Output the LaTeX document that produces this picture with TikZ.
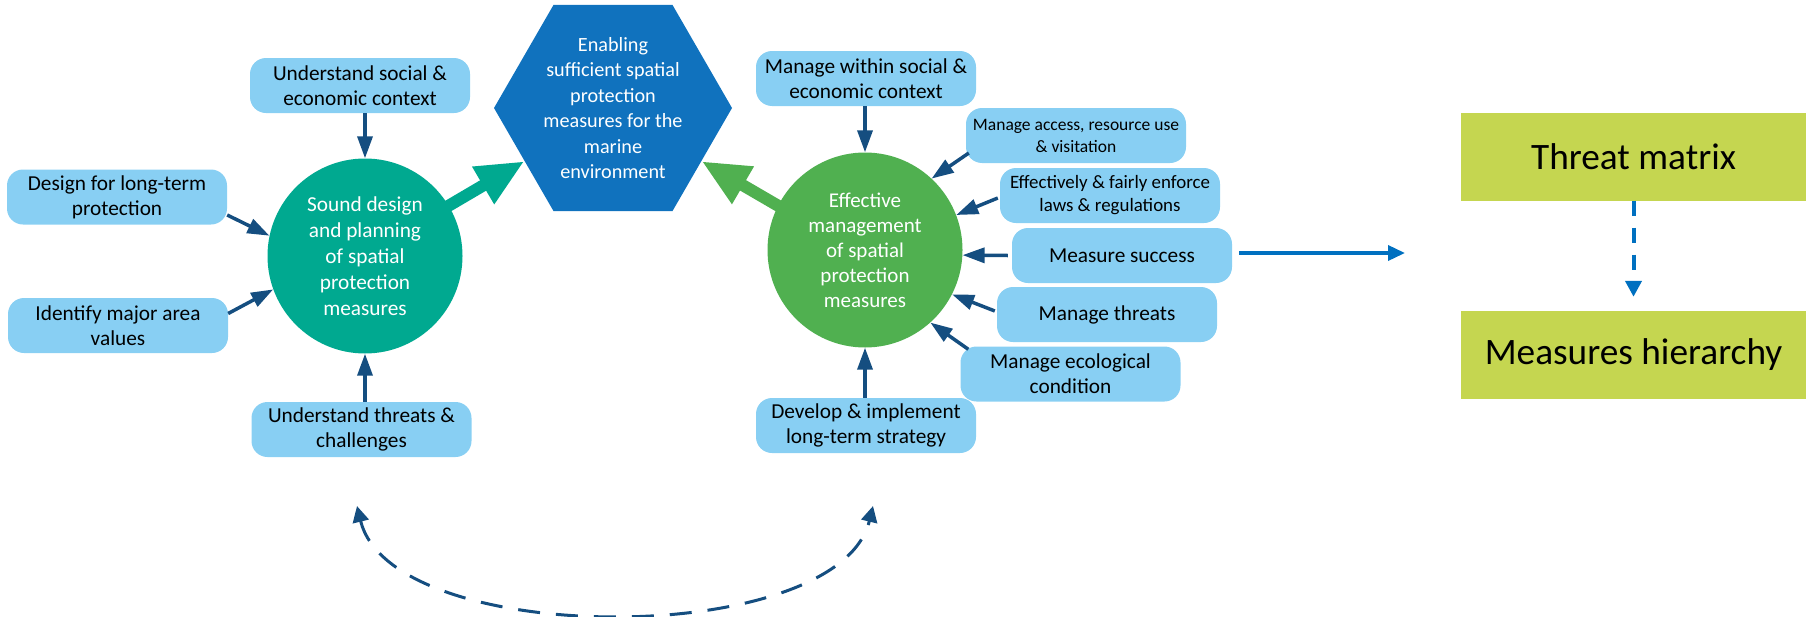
\documentclass[tikz,border=0pt]{standalone}
\usepackage{fontspec}
\setmainfont{Carlito}
\usetikzlibrary{arrows.meta,shapes.geometric,calc}

\definecolor{boxblue}{HTML}{88CFF3}
\definecolor{darkarrow}{HTML}{154E80}
\definecolor{tealc}{HTML}{00A990}
\definecolor{greenc}{HTML}{50B050}
\definecolor{hexblue}{HTML}{1072BE}
\definecolor{lineblue}{HTML}{0070C0}
\definecolor{limec}{HTML}{C5D650}

\begin{document}
\begin{tikzpicture}[x=1pt,y=-1pt,
  ibox/.style={rectangle, rounded corners=16pt, fill=boxblue, minimum width=220pt, minimum height=55pt, align=center, inner sep=2pt, text=black, font=\fontsize{21.3}{25}\selectfont},
  smallbox/.style={ibox, font=\fontsize{17.5}{22}\selectfont},
  bigcirc/.style={circle, minimum size=195pt, inner sep=0pt, align=center, text=white, font=\fontsize{21.3}{26}\selectfont},
  darr/.style={draw=darkarrow, line width=3.5pt, -{Triangle[length=22pt,width=15pt]}},
  fatarr/.style={line width=12pt, shorten <=-10pt, -{Triangle[length=48pt,width=40pt]}},
  blarr/.style={draw=lineblue, line width=3.5pt, -{Triangle[length=17pt,width=15pt]}},
  limebox/.style={rectangle, fill=limec, minimum width=345pt, minimum height=88pt, inner sep=0pt, text=black, font=\fontsize{37.3}{40}\selectfont},
]
\useasboundingbox (0,0) rectangle (1814,616);

% left cluster
\node[ibox] (usc) at (360,85.5) {Understand social \&\\economic context};
\node[ibox] (dlt) at (117,197) {Design for long-term\\protection};
\node[ibox] (ima) at (118,325.5) {Identify major area\\values};
\node[ibox] (utc) at (361.5,429.5) {Understand threats \&\\challenges};
\node[bigcirc, fill=tealc] (c1) at (365,256) {Sound design\\and planning\\of spatial\\protection\\measures};

% hexagon
\node[regular polygon, regular polygon sides=6, minimum size=238pt, inner sep=0pt, fill=hexblue] (hex) at (613,108) {};
\node[align=center, text=white, font=\fontsize{20.2}{25.5}\selectfont] (hext) at (hex.center) {Enabling\\sufficient spatial\\protection\\measures for the\\marine\\environment};

% right cluster
\node[bigcirc, fill=greenc, font=\fontsize{21}{25}\selectfont] (c2) at (865,250) {Effective\\management\\of spatial\\protection\\measures};
\node[ibox] (mws) at (866,78.5) {Manage within social \&\\economic context};
\node[smallbox] (mar) at (1076,135.5) {Manage access, resource use\\\& visitation};
\node[smallbox, font=\fontsize{18.9}{23}\selectfont] (eff) at (1110,195.5) {Effectively \& fairly enforce\\laws \& regulations};
\node[ibox] (ms) at (1122,255.5) {Measure success};
\node[ibox] (mt) at (1107,314.5) {Manage threats};
\node[ibox] (mec) at (1070.5,374) {Manage ecological\\condition};
\node[ibox] (dev) at (866,425.5) {Develop \& implement\\long-term strategy};

% far right
\node[limebox] (tm) at (1633.5,156.5) {Threat matrix};
\node[limebox] (mh) at (1633.5,355) {Measures hierarchy};

% arrows left
\draw[darr] (c1.north |- usc.south) -- (c1.north);
\draw[darr] ([yshift=-18pt]dlt.east) -- (c1.168);
\draw[darr] ([yshift=12pt]ima.east) -- (c1.200);
\draw[darr] (c1.south |- utc.north) -- (c1.south);

% fat arrows
\draw[fatarr, tealc] (c1.31) -- (hex.211);
\draw[fatarr, greenc] (c2.153) -- (hex.329);

% arrows right
\draw[darr] (c2.north |- mws.south) -- (c2.north);
\draw[darr] ([xshift=3pt,yshift=-17.5pt]mar.west) -- (c2.47);
\draw[darr] ([xshift=-2pt,yshift=-2.5pt]eff.west) -- (c2.21);
\draw[darr] ([xshift=-4pt]ms.west) -- (c2.357);
\draw[darr] ([xshift=-2pt,yshift=3.5pt]mt.west) -- (c2.333);
\draw[darr] ([xshift=8pt,yshift=-3pt]mec.north west) -- (c2.312);
\draw[darr] (c2.south |- dev.north) -- (c2.south);

% to the right
\coordinate (rt) at (1405,253);
\draw[blarr] ([xshift=7pt,yshift=2.5pt]ms.east) -- (rt);
\draw[lineblue, line width=4pt, dash pattern=on 15pt off 12pt, shorten >=14pt, -{Triangle[length=16pt,width=16pt]}] (tm.south) -- (mh.north);

% cycle arrow
\coordinate (cl) at (357,506);
\coordinate (cr) at (873,506);
\draw[darkarrow, line width=3pt, dash pattern=on 22pt off 16pt, {Triangle[length=16pt,width=16pt]}-{Triangle[length=16pt,width=16pt]}] (cl) .. controls (392,649) and (838,649) .. (cr);
\end{tikzpicture}
\end{document}
